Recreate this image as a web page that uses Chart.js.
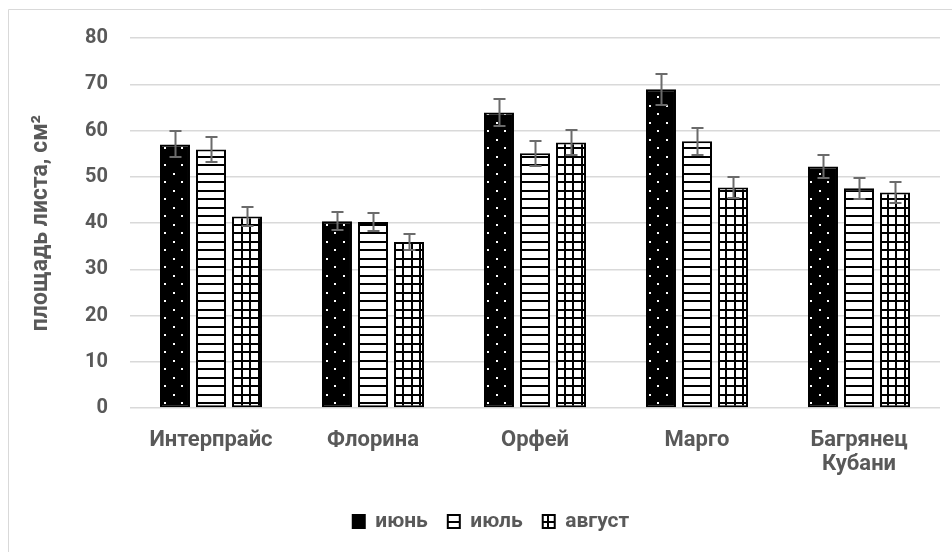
<!DOCTYPE html>
<html>
<head>
<meta charset="utf-8">
<script src="https://cdn.jsdelivr.net/npm/chart.js@4/dist/chart.umd.min.js"></script>
<style>
  html, body { margin: 0; padding: 0; background: #fff; }
  #wrap { position: relative; width: 952px; height: 552px; }
</style>
</head>
<body>
<div id="wrap"><canvas id="c" width="952" height="552"></canvas></div>
<script>
// Leaf area by variety and month, with standard error
const categories = ['Интерпрайс', 'Флорина', 'Орфей', 'Марго', ['Багрянец', 'Кубани']];
const seriesNames = ['июнь', 'июль', 'август'];
const juneValues = [57.0, 40.4, 63.9, 68.9, 52.2];
const julyValues = [55.9, 40.2, 55.1, 57.7, 47.5];
const augustValues = [41.4, 35.9, 57.4, 47.7, 46.6];
const juneErrors = [2.8, 2.0, 3.0, 3.3, 2.4];
const julyErrors = [2.7, 2.0, 2.7, 2.9, 2.3];
const augustErrors = [2.1, 1.8, 2.7, 2.2, 2.3];
const yTicks = [0, 10, 20, 30, 40, 50, 60, 70, 80];

const FONT = 'Roboto, "DejaVu Sans", sans-serif';
const TEXT = '#595959';

// Hatch fills
function makePattern(kind) {
  const t = document.createElement('canvas');
  t.width = 17; t.height = 17;
  const g = t.getContext('2d');
  if (kind === 'dots') {
    g.fillStyle = '#000'; g.fillRect(0, 0, 17, 17);
    g.fillStyle = '#fff';
    g.fillRect(3, 3, 2, 2);
    g.fillRect(11, 11, 2, 2);
  } else if (kind === 'hlines') {
    g.fillStyle = '#fff'; g.fillRect(0, 0, 17, 17);
    g.fillStyle = '#000';
    g.fillRect(0, 3, 17, 2);
    g.fillRect(0, 11, 17, 2);
  } else {
    g.fillStyle = '#fff'; g.fillRect(0, 0, 17, 17);
    g.fillStyle = '#000';
    g.fillRect(0, 3, 17, 2);
    g.fillRect(0, 11, 17, 2);
    g.fillRect(3, 0, 2, 17);
    g.fillRect(11, 0, 2, 17);
  }
  return document.getElementById('c').getContext('2d').createPattern(t, 'repeat');
}

const fills = [makePattern('dots'), makePattern('hlines'), makePattern('grid')];
const valuesList = [juneValues, julyValues, augustValues];
const errorsList = [juneErrors, julyErrors, augustErrors];

const datasets = seriesNames.map((name, i) => ({
  label: name,
  data: valuesList[i],
  errors: errorsList[i],
  backgroundColor: fills[i],
  borderColor: '#000',
  borderWidth: 2,
  borderSkipped: false,
  categoryPercentage: 0.667,
  barPercentage: 0.833
}));

// White page with light frame lines on the left and top
const framePlugin = {
  id: 'frame',
  beforeDraw(chart) {
    const ctx = chart.ctx;
    ctx.save();
    ctx.fillStyle = '#fff';
    ctx.fillRect(0, 0, chart.width, chart.height);
    ctx.strokeStyle = '#d9d9d9';
    ctx.lineWidth = 1;
    ctx.beginPath();
    ctx.moveTo(8.5, chart.height);
    ctx.lineTo(8.5, 9.5);
    ctx.lineTo(chart.width, 9.5);
    ctx.stroke();
    ctx.restore();
  }
};

// Legend sits centred in the wider frame, a little right of the canvas centre
const legendShift = {
  id: 'legendShift',
  afterLayout(chart) {
    const lg = chart.legend;
    if (lg) { lg.left += 16; lg.right += 16; }
  }
};

// Error bars with caps
const errorBarPlugin = {
  id: 'errorBars',
  afterDatasetsDraw(chart) {
    const ctx = chart.ctx;
    const y = chart.scales.y;
    ctx.save();
    ctx.strokeStyle = '#6b6b6b';
    ctx.lineWidth = 2;
    chart.data.datasets.forEach((ds, di) => {
      const meta = chart.getDatasetMeta(di);
      meta.data.forEach((bar, i) => {
        const v = ds.data[i], e = ds.errors[i];
        const x = Math.round(bar.x) + 0.5;
        const yt = Math.round(y.getPixelForValue(v + e));
        const yb = Math.round(y.getPixelForValue(v - e));
        ctx.beginPath();
        ctx.moveTo(x, yt); ctx.lineTo(x, yb);
        ctx.moveTo(x - 6, yt); ctx.lineTo(x + 6, yt);
        ctx.moveTo(x - 6, yb); ctx.lineTo(x + 6, yb);
        ctx.stroke();
      });
    });
    ctx.restore();
  }
};

new Chart(document.getElementById('c'), {
  type: 'bar',
  data: { labels: categories, datasets },
  options: {
    responsive: false,
    animation: false,
    devicePixelRatio: 1,
    layout: { padding: { left: 10, right: 12, top: 38, bottom: 10 } },
    plugins: {
      legend: {
        position: 'bottom',
        labels: {
          color: TEXT,
          font: { family: FONT, size: 21, weight: 'bold' },
          boxWidth: 12,
          boxHeight: 13,
          padding: 20
        }
      },
      tooltip: { enabled: false }
    },
    scales: {
      x: {
        grid: { display: false },
        border: { display: false },
        ticks: {
          color: TEXT,
          font: { family: FONT, size: 22, weight: 'bold', lineHeight: 1.1 },
          padding: 12,
          maxRotation: 0,
          autoSkip: false
        },
        afterFit(scale) { scale.height = 83; }
      },
      y: {
        min: 0,
        max: 80,
        afterBuildTicks(scale) { scale.ticks = yTicks.map(v => ({ value: v })); },
        grid: { color: '#d9d9d9', lineWidth: 1.5, drawTicks: false },
        border: { display: false },
        ticks: {
          color: TEXT,
          font: { family: FONT, size: 20, weight: 'bold' },
          padding: 22
        },
        title: {
          display: true,
          text: 'площадь листа, см²',
          color: TEXT,
          font: { family: FONT, size: 23, weight: 'bold' },
          padding: { top: 17, bottom: 0 }
        },
        afterFit(scale) { scale.width = 120; }
      }
    }
  },
  plugins: [framePlugin, legendShift, errorBarPlugin]
});
</script>
</body>
</html>
